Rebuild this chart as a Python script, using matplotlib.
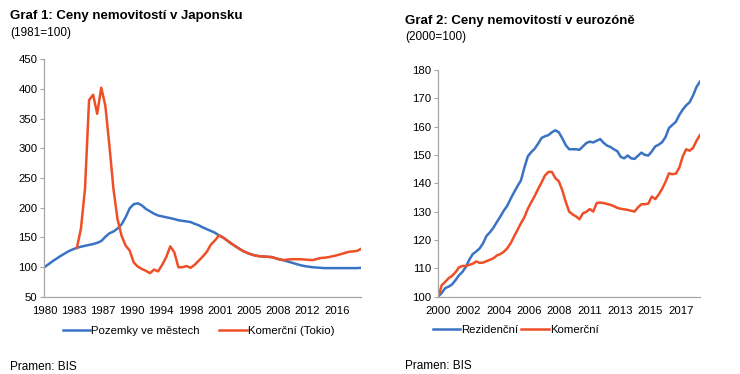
import matplotlib
matplotlib.use('Agg')
import matplotlib.pyplot as plt
import numpy as np

plt.rcParams['font.family'] = ['Liberation Sans', 'DejaVu Sans']

BLUE = '#3a73c4'
RED = '#ef4f27'
GRAY = '#a6a6a6'

# Graf 1: Japonsko, pololetní hodnoty od 1980 (1981=100)
jp_start = 1980.0
jp_land = [100, 105, 110, 114.5, 119, 123, 127, 130, 132.5, 134.5,
           136, 137.5, 139, 141, 144, 151, 157, 160, 165, 172,
           184, 199, 206, 207.5, 204, 198, 194, 190, 187, 185.5,
           184, 182.5, 181, 179, 178, 177, 176, 173, 170.5, 167,
           164, 161, 158, 153.5, 150, 145, 140, 135.5, 131, 127,
           124, 121.5, 119.5, 118.5, 118, 117.5, 117, 115, 113, 111.5,
           109.5, 107.5, 105.5, 103.5, 102, 101, 100, 99.5, 99, 98.5,
           98.5, 98.5, 98.5, 98.5, 98.5, 98.5, 98.5, 98.5, 99]
jp_comm = [None] * 8 + [
           132.5, 165, 232, 381, 390, 358, 402, 372, 305, 232,
           181, 153, 136.5, 128, 108, 101, 97, 94, 90, 96,
           93, 104, 117, 135, 125, 100, 100, 102, 99, 104,
           111, 118, 126, 138, 145, 153.5, 150, 145, 140, 135.5,
           131, 127, 124, 121.5, 119.5, 118.5, 118, 117.5, 117, 115,
           113, 112, 113, 113.5, 113.5, 113.5, 113, 112.5, 112, 113.5,
           115.5, 116, 117, 118.5, 120, 122, 124, 126, 126.5, 127.5,
           131]
jp_tick_pos = [1980, 1983.6, 1987.2, 1990.8, 1994.4, 1998, 2001.6, 2005.2, 2008.8, 2012.4, 2016]
jp_tick_labels = ['1980', '1983', '1987', '1990', '1994', '1998', '2001', '2005', '2008', '2012', '2016']

# Graf 2: eurozóna, čtvrtletní hodnoty od 2000 (2000=100)
ez_start = 2000.0
ez_resid = [100, 101.3, 103, 103.5, 104.3, 105.8, 107.5, 108.7, 110.5, 113,
            115, 115.9, 117, 118.8, 121.4, 122.7, 124.3, 126.3, 128.2, 130.3,
            132, 134.5, 136.8, 139, 141, 145.5, 149.5, 151, 152.2, 154,
            156, 156.6, 157, 158, 158.7, 158, 155.9, 153.5, 152, 152,
            152, 151.8, 153, 154.2, 154.7, 154.4, 155, 155.6, 154.3, 153.3,
            152.8, 152, 151.3, 149.3, 148.8, 149.8, 148.8, 148.6, 149.7, 150.8,
            150, 149.8, 151.2, 153, 153.6, 154.5, 156.3, 159.5, 160.6, 161.7,
            164.1, 166, 167.5, 168.6, 171, 174, 175.9]
ez_comm = [100, 104, 105.2, 106.5, 107.3, 108.6, 110.3, 110.8, 110.8, 111.2,
           111.6, 112.4, 111.9, 112, 112.5, 113, 113.5, 114.5, 115, 115.8,
           117, 118.8, 121.2, 123.5, 125.9, 128, 131, 133.3, 135.5, 138,
           140.3, 142.8, 144, 144, 141.8, 140.7, 137.6, 133.5, 130, 129,
           128.3, 127.3, 129.4, 129.9, 130.9, 130, 133, 133.2, 133, 132.7,
           132.4, 131.9, 131.3, 131, 130.8, 130.6, 130.3, 130, 131.5, 132.6,
           132.6, 132.8, 135.3, 134.4, 136, 138, 140.5, 143.5, 143.2, 143.4,
           145.5, 149.5, 152, 151.5, 152.5, 155, 157]
ez_tick_pos = [2000, 2002.2, 2004.4, 2006.6, 2008.8, 2011, 2013.2, 2015.4, 2017.6]
ez_tick_labels = ['2000', '2002', '2004', '2006', '2008', '2011', '2013', '2015', '2017']


def style_axis(ax):
    for side in ['top', 'right']:
        ax.spines[side].set_visible(False)
    for side in ['left', 'bottom']:
        ax.spines[side].set_color(GRAY)
        ax.spines[side].set_linewidth(0.9)
    ax.tick_params(axis='y', length=3, width=0.8, color=GRAY, pad=2, labelsize=8.2)
    ax.tick_params(axis='x', length=0, pad=6.5, labelsize=8.2)


fig = plt.figure(figsize=(7.4, 3.74), dpi=100)

ax1 = fig.add_axes([0.060, 0.206, 0.428, 0.636])
jp_years = jp_start + 0.5 * np.arange(len(jp_land))
ax1.plot(jp_years, jp_land, color=BLUE, lw=1.8, label='Pozemky ve městech')
ax1.plot(jp_years, np.array(jp_comm, dtype=float), color=RED, lw=1.8, label='Komerční (Tokio)')
ax1.set_xlim(jp_years[0], jp_years[-1])
ax1.set_ylim(50, 450)
ax1.set_yticks(range(50, 451, 50))
ax1.set_xticks(jp_tick_pos)
ax1.set_xticklabels(jp_tick_labels)
style_axis(ax1)
ax1.legend(loc='center left', bbox_to_anchor=(63 / 740, 1 - 331 / 374), bbox_transform=fig.transFigure,
           ncol=2, frameon=False, borderpad=0, borderaxespad=0, handlelength=2.4,
           handletextpad=0.1, columnspacing=1.7, fontsize=8.2)

ax2 = fig.add_axes([0.5923, 0.207, 0.3536, 0.606])
ez_years = ez_start + 0.25 * np.arange(len(ez_resid))
ax2.plot(ez_years, ez_resid, color=BLUE, lw=1.8, label='Rezidenční')
ax2.plot(ez_years, ez_comm, color=RED, lw=1.8, label='Komerční')
ax2.set_xlim(ez_years[0], ez_years[-1])
ax2.set_ylim(100, 180)
ax2.set_yticks(range(100, 181, 10))
ax2.set_xticks(ez_tick_pos)
ax2.set_xticklabels(ez_tick_labels)
style_axis(ax2)
ax2.legend(loc='center left', bbox_to_anchor=(433 / 740, 1 - 330 / 374), bbox_transform=fig.transFigure,
           ncol=2, frameon=False, borderpad=0, borderaxespad=0, handlelength=2.4,
           handletextpad=0.1, columnspacing=0.25, fontsize=8.2)

fig.text(10 / 740, 1 - 16 / 374, 'Graf 1: Ceny nemovitostí v Japonsku', fontsize=9.5,
         fontweight='bold', va='center', ha='left')
fig.text(10 / 740, 1 - 33 / 374, '(1981=100)', fontsize=8.5, va='center', ha='left')
fig.text(405 / 740, 1 - 21 / 374, 'Graf 2: Ceny nemovitostí v eurozóně', fontsize=9.5,
         fontweight='bold', va='center', ha='left')
fig.text(405 / 740, 1 - 37 / 374, '(2000=100)', fontsize=8.5, va='center', ha='left')
fig.text(10 / 740, 1 - 367 / 374, 'Pramen: BIS', fontsize=8.5, va='center', ha='left')
fig.text(405 / 740, 1 - 366 / 374, 'Pramen: BIS', fontsize=8.5, va='center', ha='left')

plt.savefig('out.png', dpi=100)
